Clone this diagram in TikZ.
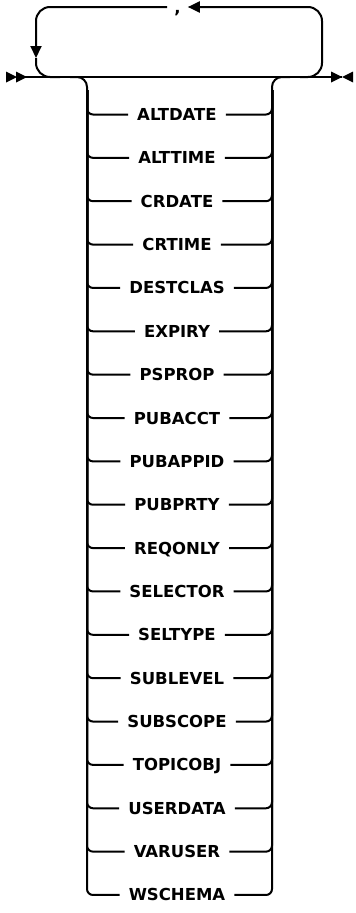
\documentclass[tikz,border=0pt]{standalone}
\usepackage{fontspec}
\setmainfont{DejaVu Sans}
\usetikzlibrary{arrows.meta,positioning}

\begin{document}
\begin{tikzpicture}[
    x=1pt,y=-1pt,
    rail/.style={line width=2pt,draw=black},
    loopline/.style={rail,rounded corners=14pt},
    fork/.style={rail,rounded corners=10pt},
    twig/.style={rail,rounded corners=6pt},
    opt/.style={font=\bfseries\fontsize{16.5}{18}\selectfont,inner xsep=9pt,inner ysep=0pt,text height=12pt,text depth=0pt},
    tip/.style={-{Triangle[length=12pt,width=11pt]}},
    marker/.style={fill=black}
]
    \useasboundingbox (0,0) rectangle (356,913);

    % main line with start and end markers
    \coordinate (start) at (16,77);
    \coordinate (stop) at (342,77);
    \fill[marker] (6,71.5) -- (17,77) -- (6,82.5) -- cycle;
    \fill[marker] (16,71.5) -- (27,77) -- (16,82.5) -- cycle;
    \fill[marker] (331,71.5) -- (stop) -- (331,82.5) -- cycle;
    \fill[marker] (353,71.5) -- (stop) -- (353,82.5) -- cycle;
    \draw[rail] (start) -- (stop);

    % repeat loop with separator
    \coordinate (topy) at (0,7);
    \coordinate (ldown) at (36,58);
    \node[anchor=base,font=\bfseries\fontsize{16.5}{18}\selectfont,inner xsep=7pt] (comma) at (177.5,13.5) {,};
    \draw[loopline,tip] (300,77) -| (322,7) -- (comma.east |- topy);
    \draw[loopline,tip] (comma.west |- topy) -| (ldown);
    \draw[loopline] (ldown) |- (60,77);

    % choice stack
    \draw[fork] (70,77) -| (87,100);
    \draw[fork] (272,100) |- (290,77);
    \foreach \name [count=\i] in {ALTDATE,ALTTIME,CRDATE,CRTIME,DESTCLAS,EXPIRY,PSPROP,PUBACCT,PUBAPPID,PUBPRTY,REQONLY,SELECTOR,SELTYPE,SUBLEVEL,SUBSCOPE,TOPICOBJ,USERDATA,VARUSER,WSCHEMA} {
        \node[opt] (o\i) at (177,{114.5+43.36*(\i-1)}) {\name};
        \draw[twig] (87,90) |- (o\i.west);
        \draw[twig] (o\i.east) -| (272,90);
    }
\end{tikzpicture}
\end{document}
